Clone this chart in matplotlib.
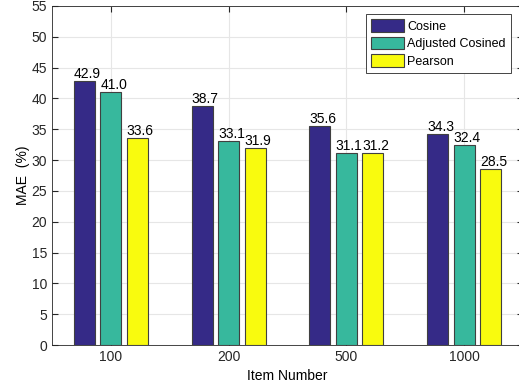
import numpy as np
import matplotlib.pyplot as plt

plt.rcParams['font.family'] = ['Liberation Sans', 'DejaVu Sans']

# data
items = ["100", "200", "500", "1000"]
cosine = [42.9, 38.7, 35.6, 34.3]
adj_cosine = [41.0, 33.1, 31.1, 32.4]
pearson = [33.6, 31.9, 31.2, 28.5]
labels = ["Cosine", "Adjusted Cosined", "Pearson"]
colors = ["#352a87", "#37b89d", "#f9fb0e"]

fig = plt.figure(figsize=(5.19, 3.87), dpi=100)
ax = fig.add_axes([0.1002, 0.1085, 0.9075, 0.876])

x = np.arange(1, len(items) + 1)
w = 0.18
step = 0.225
for i, (vals, lab, c) in enumerate(zip([cosine, adj_cosine, pearson], labels, colors)):
    xs = x + (i - 1) * step
    ax.bar(xs, vals, width=w, color=c, edgecolor="#404040", linewidth=0.8, label=lab, zorder=3)
    for xi, v in zip(xs, vals):
        ax.text(xi - w / 2, v, "%.1f" % v, ha="left", va="bottom", fontsize=10, zorder=4)

ax.set_xlim(0.5, 4.5)
ax.set_ylim(0, 55)
ax.set_yticks(range(0, 56, 5))
ax.set_xticks(x)
ax.set_xticklabels(items)
ax.tick_params(direction="in", labelsize=10, colors="#262626", right=True, top=True, length=4)
ax.grid(True, color="#e6e6e6", linewidth=0.8, zorder=0)
for s in ax.spines.values():
    s.set_color("#262626")
    s.set_linewidth(0.6)
ax.set_xlabel("Item Number", fontsize=10)
ax.set_ylabel("MAE  (%)", fontsize=10, labelpad=1)

leg = ax.legend(loc="upper right", bbox_to_anchor=(0.9745, 0.976), borderaxespad=0,
                fontsize=9, fancybox=False, edgecolor="#262626", framealpha=1,
                handlelength=2.6, handleheight=1.2, handletextpad=0.3,
                borderpad=0.4, labelspacing=0.3)
leg.get_frame().set_linewidth(0.6)

fig.savefig("out.png", dpi=100)
